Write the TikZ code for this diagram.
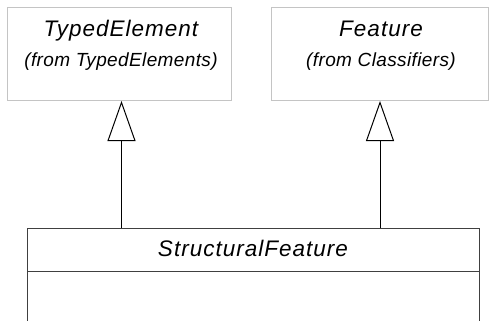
\documentclass[tikz,border=0pt]{standalone}
\usepackage{fontspec}
\setmainfont{Liberation Sans}
\newfontfamily\umlfont{Liberation Sans}[LetterSpace=4.5]
\newfontfamily\umlsmall{Liberation Sans}[LetterSpace=2]
\usetikzlibrary{arrows.meta}
\definecolor{lightborder}{HTML}{C4C4C4}
\definecolor{darkborder}{HTML}{404040}
\begin{document}
\begin{tikzpicture}[x=1bp,y=-1bp,
  graybox/.style={draw=lightborder,fill=white,line width=1bp,rectangle,inner sep=0pt,anchor=north west},
  darkbox/.style={draw=darkborder,fill=white,line width=1bp,rectangle,inner sep=0pt,anchor=north west},
  titletext/.style={font=\umlfont\itshape\fontsize{22.5bp}{26bp}\selectfont,anchor=base,inner sep=0pt},
  fromtext/.style={font=\umlsmall\itshape\fontsize{19bp}{22bp}\selectfont,anchor=base,inner sep=0pt},
  gen/.style={draw=black,line width=1bp,-{Triangle[open,length=40bp,width=28bp,fill=white]}}
]
\useasboundingbox (0,0) rectangle (489,320);
\clip (0,0) rectangle (489,320);
% top-left class
\node[graybox,minimum width=224bp,minimum height=93bp] (te) at (7,7) {};
\node[titletext] (tename) at (121,36.5) {TypedElement};
\node[fromtext] (tefrom) at (121,66) {(from TypedElements)};
% top-right class
\node[graybox,minimum width=217bp,minimum height=93bp] (fe) at (271,7) {};
\node[titletext] (fename) at (381,36.5) {Feature};
\node[fromtext] (fefrom) at (381,66) {(from Classifiers)};
% bottom class
\node[darkbox,minimum width=452bp,minimum height=120bp] (sf) at (27,228) {};
\draw[draw=darkborder,line width=1bp] ([yshift=-43bp]sf.north west) -- ([yshift=-43bp]sf.north east);
\node[titletext] (sfname) at (253,256.5) {StructuralFeature};
% generalizations
\coordinate (teend) at ([xshift=2bp]te.south);
\coordinate (feend) at (fe.south);
\draw[gen] (sf.north -| teend) -- (teend);
\draw[gen] (sf.north -| feend) -- (feend);
\end{tikzpicture}
\end{document}
